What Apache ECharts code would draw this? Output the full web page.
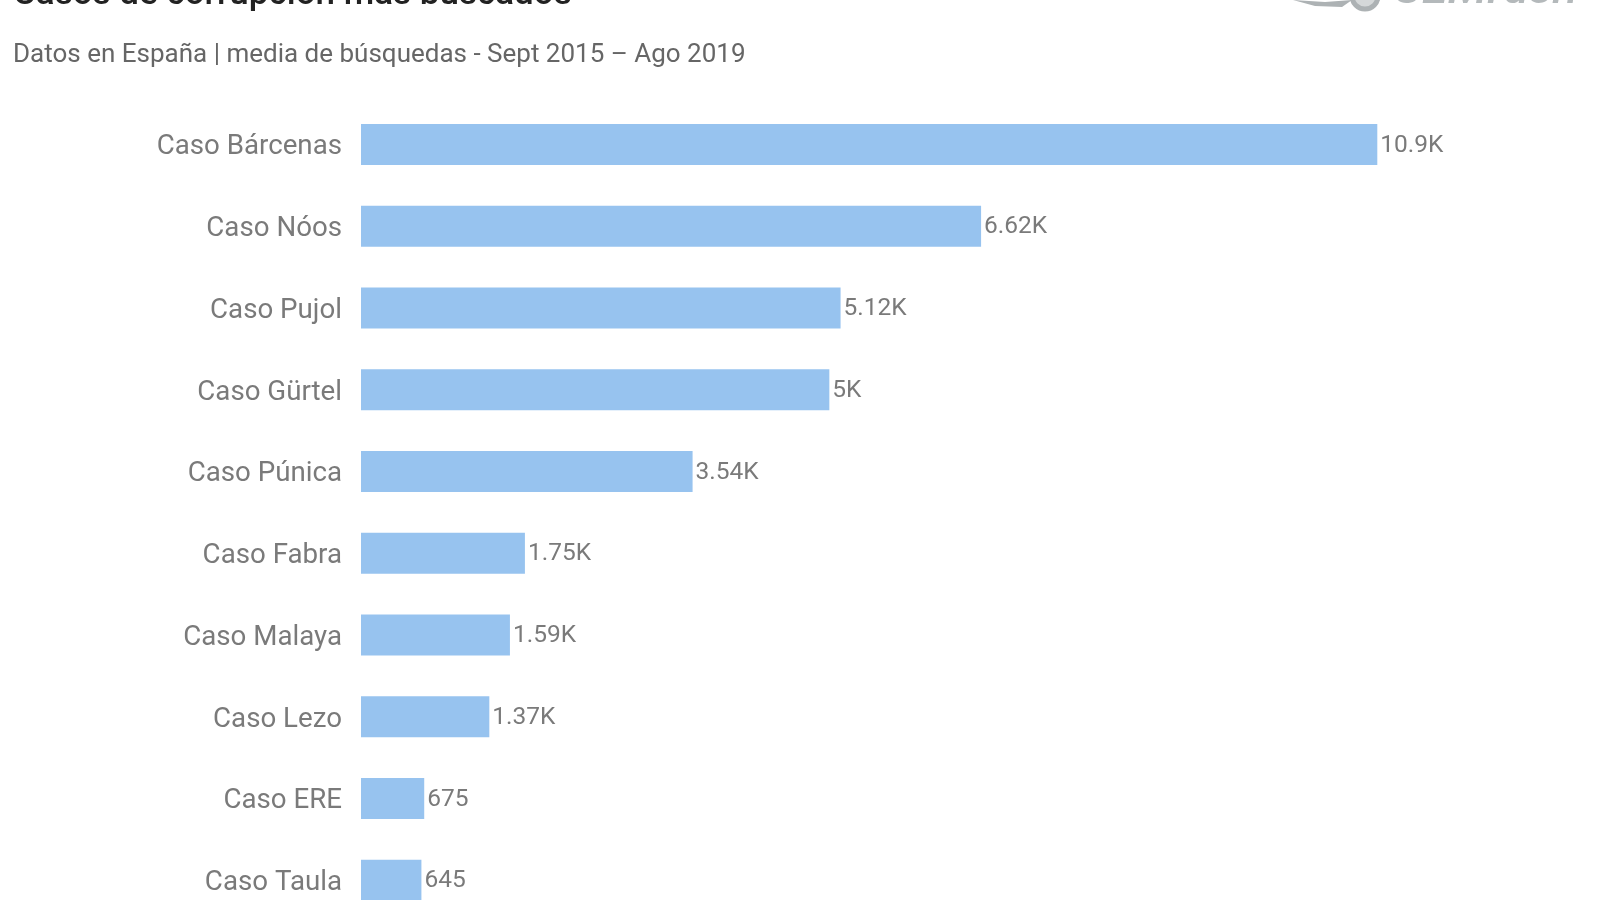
<!DOCTYPE html>
<html>
<head>
    <meta charset="utf-8">
    <title>Casos de corrupción más buscados</title>
    <script src="https://cdn.jsdelivr.net/npm/echarts@6/dist/echarts.min.js"></script>
    <style>
        html, body { margin: 0; padding: 0; background: #fff; overflow: hidden; height: 900px; }
        /* más alto que la ventana: la última barra queda cortada como en el original */
        #result { width: 1600px; height: 930px; }
    </style>
</head>
<body>
    <div id="result"></div>
    <script>
        var casos = ['Caso Bárcenas', 'Caso Nóos', 'Caso Pujol', 'Caso Gürtel', 'Caso Púnica',
            'Caso Fabra', 'Caso Malaya', 'Caso Lezo', 'Caso ERE', 'Caso Taula'];
        var busquedas = [10850, 6620, 5120, 5000, 3540, 1750, 1590, 1370, 675, 645];
        var etiquetas = ['10.9K', '6.62K', '5.12K', '5K', '3.54K', '1.75K', '1.59K', '1.37K', '675', '645'];

        var titulo = 'Casos de corrupción más buscados';
        var subtitulo = 'Datos en España | media de búsquedas - Sept 2015 – Ago 2019';

        var myChart = echarts.init(document.getElementById('result'));
        var option = {
            backgroundColor: '#ffffff',
            animation: false,
            textStyle: { fontFamily: 'Roboto' },
            grid: { left: 361, top: 103.6, width: 1118.4, height: 817.5 },
            xAxis: { type: 'value', min: 0, max: 11940, show: false },
            yAxis: {
                type: 'category',
                inverse: true,
                data: casos,
                axisLine: { show: false },
                axisTick: { show: false },
                // verticalAlign top + lineHeight bajo: baja el texto 3px respecto a la barra
                axisLabel: { color: '#7a7a7a', fontSize: 27.7, margin: 19, verticalAlign: 'top', lineHeight: 6 }
            },
            series: [{
                type: 'bar',
                data: busquedas,
                barWidth: 41,
                itemStyle: { color: '#97c3ef' },
                label: {
                    show: true,
                    position: 'right',
                    distance: 3,
                    offset: [0, 1],
                    color: '#7a7a7a',
                    fontSize: 24.5,
                    formatter: function (p) { return etiquetas[p.dataIndex]; }
                }
            }],
            graphic: [
                { type: 'text', x: 13, y: -22, style: { text: titulo, fill: '#222222', font: '500 35px Roboto' } },
                { type: 'text', x: 13, y: 42, style: { text: subtitulo, fill: '#666666', font: '400 26px Roboto' } },
                // logo de SEMrush, cortado arriba
                { type: 'text', x: 1394, y: -32, style: { text: 'SEMrush', fill: '#b4b9bb', font: 'italic 500 47px Roboto' } },
                { type: 'polygon', shape: { points: [[1293, 0], [1325, 2], [1352, 0], [1342, 7], [1315, 6]] }, style: { fill: '#adb2b4' } },
                { type: 'circle', shape: { cx: 1365, cy: -4, r: 13 }, style: { fill: '#d5d8d9', stroke: '#adb2b4', lineWidth: 5 } }
            ]
        };
        myChart.setOption(option);
    </script>
</body>
</html>
